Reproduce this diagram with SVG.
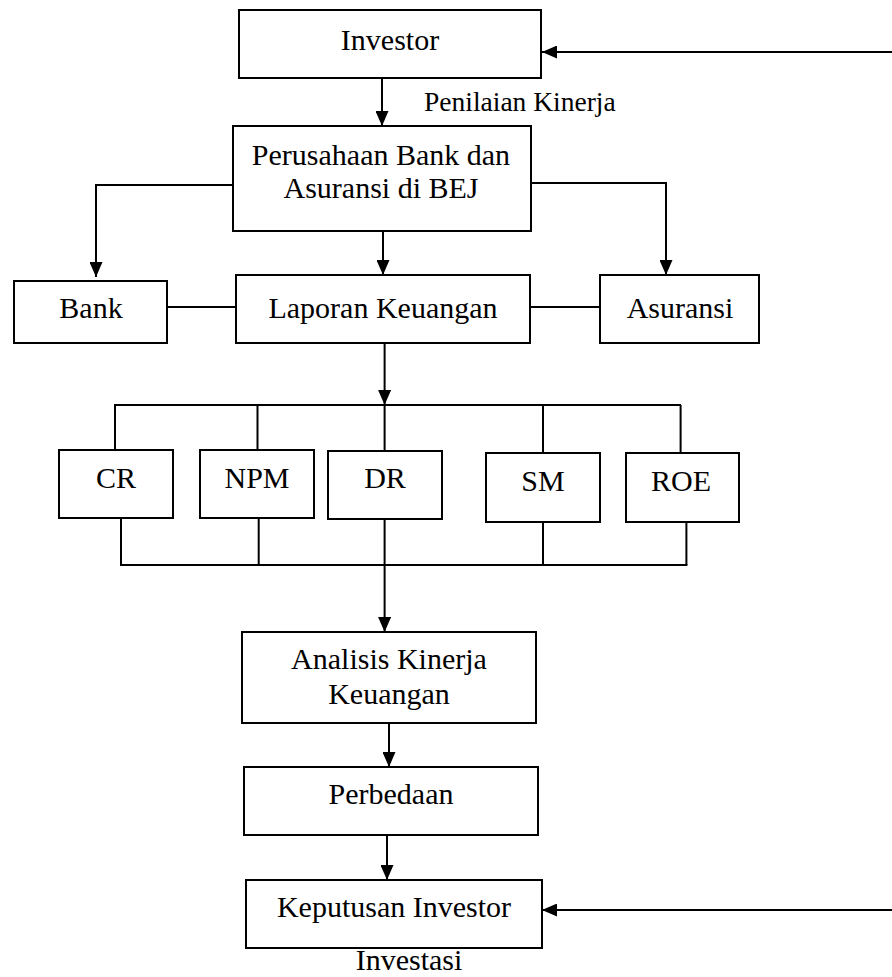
<svg xmlns="http://www.w3.org/2000/svg" width="892" height="977" viewBox="0 0 892 977">
<defs>
<style>
.box{fill:#fff;stroke:#000;stroke-width:2}
.ln{fill:none;stroke:#000;stroke-width:2}
.t{font-family:"Liberation Serif","Times New Roman",serif;font-size:30px;fill:#000;text-anchor:middle}
.s{font-family:"Liberation Serif","Times New Roman",serif;font-size:27.5px;fill:#000}
</style>
<marker id="ah" markerWidth="15" markerHeight="13" refX="15" refY="6.5" orient="auto" markerUnits="userSpaceOnUse">
<path d="M0,0 L15,6.5 L0,13 z" fill="#000"/>
</marker>
</defs>
<rect width="892" height="977" fill="#fff"/>
<g id="connectors">
<path class="ln" d="M382,78 V126" marker-end="url(#ah)"/>
<path class="ln" d="M233,185 H96 V277" marker-end="url(#ah)"/>
<path class="ln" d="M383,231 V275" marker-end="url(#ah)"/>
<path class="ln" d="M531,183 H666 V275" marker-end="url(#ah)"/>
<path class="ln" d="M167,307 H236"/>
<path class="ln" d="M530,307 H600"/>
<path class="ln" d="M384.6,343 V405" marker-end="url(#ah)"/>
<path class="ln" d="M114,405 H681"/>
<path class="ln" d="M115,405 V450 M257.5,405 V450 M384.6,405 V451 M543,405 V453 M680.6,405 V453"/>
<path class="ln" d="M121,518 V565 M258.7,518 V565 M384.6,519 V565 M543,522 V565 M686.4,522 V565"/>
<path class="ln" d="M120,565 H687.4"/>
<path class="ln" d="M384.6,565 V632" marker-end="url(#ah)"/>
<path class="ln" d="M389,723 V767" marker-end="url(#ah)"/>
<path class="ln" d="M387,835 V880" marker-end="url(#ah)"/>
<path class="ln" d="M892,910 H542" marker-end="url(#ah)"/>
<path class="ln" d="M892,52 H542" marker-end="url(#ah)"/>
</g>
<g id="investor">
<rect class="box" x="239" y="10" width="302" height="68"/>
<text class="t" x="390" y="50">Investor</text>
</g>
<g id="label-penilaian">
<text class="s" x="424" y="111">Penilaian Kinerja</text>
</g>
<g id="perusahaan">
<rect class="box" x="233" y="126" width="298" height="105"/>
<text class="t" x="381" y="165">Perusahaan Bank dan</text>
<text class="t" x="381" y="198">Asuransi di BEJ</text>
</g>
<g id="bank">
<rect class="box" x="14" y="281" width="153" height="62"/>
<text class="t" x="91" y="318">Bank</text>
</g>
<g id="laporan">
<rect class="box" x="236" y="275" width="294" height="68"/>
<text class="t" x="383" y="318">Laporan Keuangan</text>
</g>
<g id="asuransi">
<rect class="box" x="600" y="275" width="159" height="68"/>
<text class="t" x="680" y="318">Asuransi</text>
</g>
<g id="cr">
<rect class="box" x="59" y="450" width="114" height="68"/>
<text class="t" x="116" y="488">CR</text>
</g>
<g id="npm">
<rect class="box" x="200" y="450" width="114" height="68"/>
<text class="t" x="257" y="488">NPM</text>
</g>
<g id="dr">
<rect class="box" x="328" y="451" width="114" height="68"/>
<text class="t" x="385" y="488">DR</text>
</g>
<g id="sm">
<rect class="box" x="486" y="453" width="114" height="69"/>
<text class="t" x="543" y="491">SM</text>
</g>
<g id="roe">
<rect class="box" x="626" y="453" width="113" height="69"/>
<text class="t" x="681" y="491">ROE</text>
</g>
<g id="analisis">
<rect class="box" x="242" y="632" width="294" height="91"/>
<text class="t" x="389" y="669">Analisis Kinerja</text>
<text class="t" x="389" y="704">Keuangan</text>
</g>
<g id="perbedaan">
<rect class="box" x="244" y="767" width="294" height="68"/>
<text class="t" x="391" y="804">Perbedaan</text>
</g>
<g id="keputusan">
<rect class="box" x="246" y="880" width="296" height="68"/>
<text class="t" x="394" y="917">Keputusan Investor</text>
</g>
<g id="label-investasi">
<text class="t" x="409" y="970">Investasi</text>
</g>
</svg>
